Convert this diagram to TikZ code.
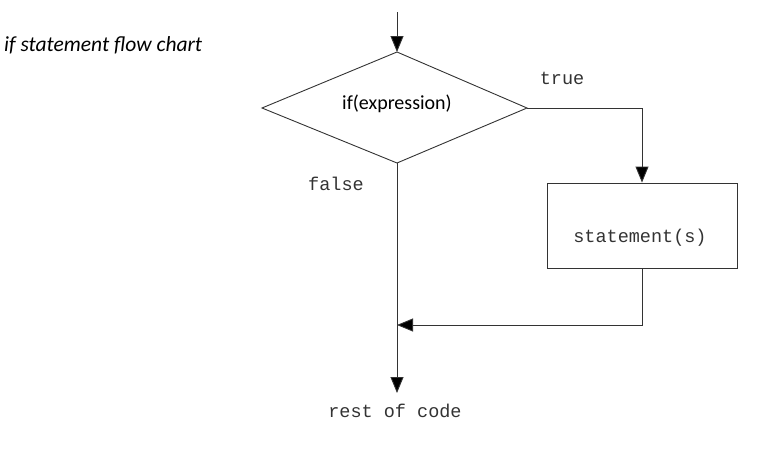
\documentclass[tikz,border=0pt]{standalone}
\usepackage{fontspec}
\setmainfont{Carlito}
\newfontfamily\monof{Liberation Mono}
\usetikzlibrary{arrows.meta}
\begin{document}
\begin{tikzpicture}[x=1pt,y=-1pt,
  line/.style={draw=black!80,line width=0.9pt},
  arr/.style={line,-{Triangle[width=13pt,length=16pt,fill=black]}},
  mono/.style={font=\monof\fontsize{18.5}{21}\selectfont,text=black!80}]
\useasboundingbox (0,0) rectangle (768,474);
\node[font=\itshape\fontsize{21.5}{25}\selectfont,anchor=west,inner sep=0] (title) at (4,45) {if statement flow chart};
\coordinate (start) at (397,12);
\coordinate (dl) at (262,108);
\coordinate (dr) at (527,108);
\coordinate (dt) at (397,52);
\coordinate (db) at (397,163);
\draw[line] (dl) -- (dt) -- (dr) -- (db) -- cycle;
\node[font=\fontsize{20}{24}\selectfont] (cond) at (397,104) {if(expression)};
\draw[arr] (start) -- (dt);
\node[line,minimum width=190pt,minimum height=85pt,inner sep=0] (stmt) at (642,225.5) {};
\node[mono] (stmtt) at (640,238) {statement(s)};
\coordinate (c1) at (642,108);
\draw[arr] (dr) -- (c1) -- (stmt.north);
\coordinate (c2) at (642,325);
\coordinate (j) at (397,325);
\draw[arr] (stmt.south) -- (c2) -- (j);
\coordinate (end) at (397,393);
\draw[arr] (db) -- (end);
\node[mono] (rest) at (395,411) {rest of code};
\node[mono] (t) at (562,78) {true};
\node[mono] (f) at (336,184) {false};
\end{tikzpicture}
\end{document}
